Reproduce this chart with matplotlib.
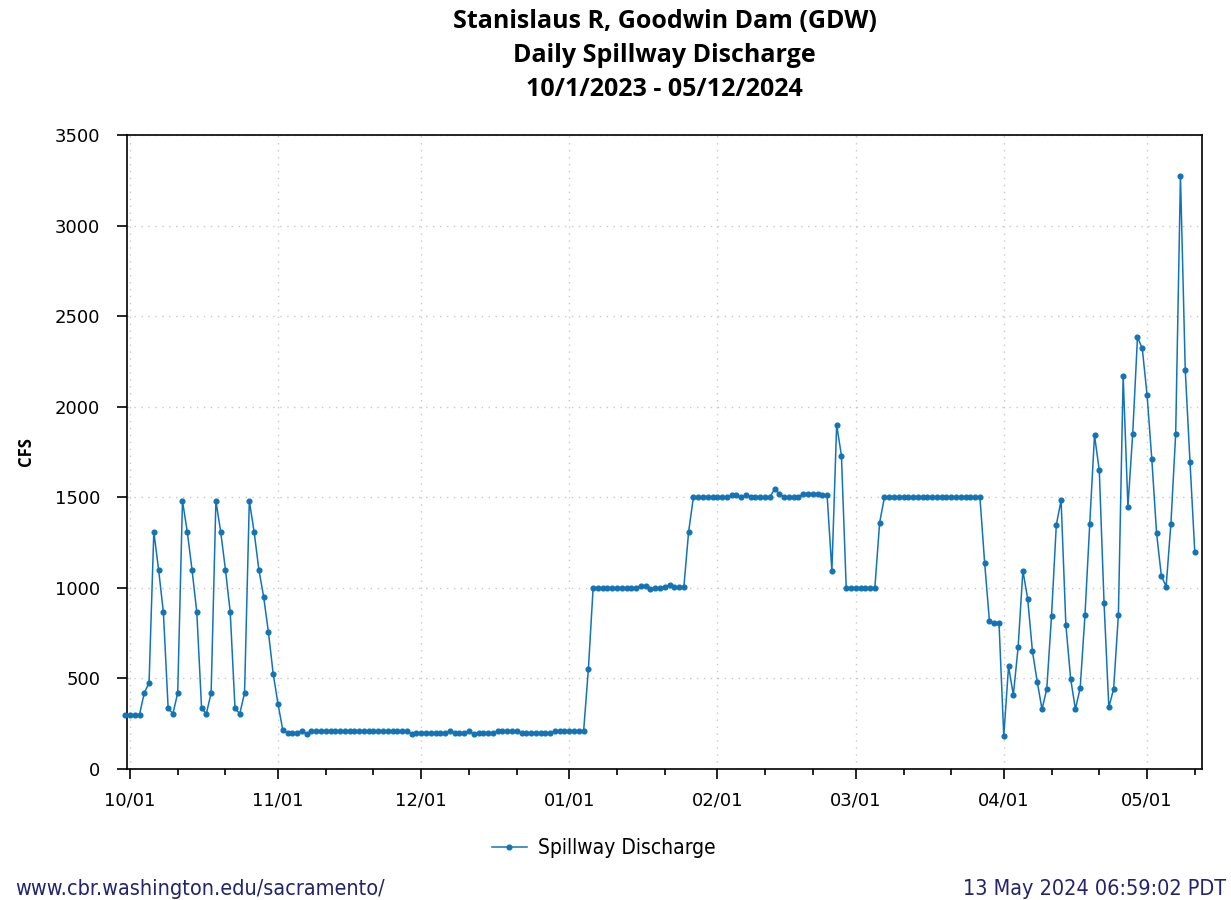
import matplotlib
matplotlib.use("Agg")
import matplotlib.pyplot as plt
import matplotlib.dates as mdates
import pandas as pd

plt.rcParams["font.family"] = ["DejaVu Sans"]

# Daily spillway discharge (cfs), one value per day
dates = pd.date_range("2023-09-30", periods=225, freq="D")

oct_nov_values = [
    300, 300, 300, 300, 420, 475, 1310, 1100, 865, 335,
    305, 420, 1480, 1310, 1100, 865, 335, 305, 420, 1480,
    1310, 1100, 865, 335, 305, 420, 1480, 1310, 1100, 950,
    755, 525, 360, 215,
]
nov_jan_values = [
    200, 200, 200, 210, 195, 207, 207, 207, 207, 207,
    207, 207, 207, 207, 207, 207, 207, 207, 207, 207,
    207, 207, 207, 207, 207, 207, 195, 198, 198, 198,
    198, 198, 198, 198, 210, 198, 198, 198, 210, 193,
    198, 198, 198, 198, 207, 207, 207, 207, 207, 197,
    197, 197, 197, 197, 197, 197, 207, 207, 207, 207,
    207, 207, 207,
]
jan_feb_values = [
    550, 1000, 1000, 1000, 1000, 1000, 1000, 1000, 1000, 1000,
    1000, 1010, 1010, 995, 1000, 1000, 1005, 1015, 1005, 1005,
    1005, 1310, 1500, 1500, 1500, 1500, 1500, 1500, 1500, 1500,
    1510, 1510, 1500, 1510, 1500, 1500, 1500, 1500, 1500, 1545,
    1520, 1500, 1500, 1500, 1500, 1520, 1520, 1520, 1520, 1510,
    1510,
]
feb_may_values = [
    1095, 1900, 1730, 1000, 1000, 1000, 1000, 1000, 1000, 1000,
    1360, 1500, 1500, 1500, 1500, 1500, 1500, 1500, 1500, 1500,
    1500, 1500, 1500, 1500, 1500, 1500, 1500, 1500, 1500, 1500,
    1500, 1500, 1135, 815, 805, 805, 182, 567, 408, 671,
    1095, 940, 650, 482, 330, 440, 847, 1347, 1484, 796,
    498, 330, 447, 848, 1352, 1843, 1648, 915, 340, 442,
    850, 2169, 1449, 1851, 2383, 2322, 2067, 1710, 1301, 1066,
    1007, 1354, 1851, 3275, 2205, 1694, 1199,
]
discharge = oct_nov_values + nov_jan_values + jan_feb_values + feb_may_values

y_ticks = [0, 500, 1000, 1500, 2000, 2500, 3000, 3500]

title_lines = ["Stanislaus R, Goodwin Dam (GDW)",
               "Daily Spillway Discharge",
               "10/1/2023 - 05/12/2024"]

line_color = "#1274b6"
footer_color = "#23236e"

fig = plt.figure(figsize=(12.31, 9.0), dpi=100)
ax = fig.add_axes([0.1029, 0.1456, 0.8735, 0.7044])

ax.plot(dates, discharge, "-o", color=line_color, lw=1.1, ms=3.4,
        mec=line_color, mfc=line_color, clip_on=False,
        label="Spillway Discharge", zorder=3)

ax.set_ylim(0, 3500)
ax.set_yticks(y_ticks)
ax.set_xlim(pd.Timestamp("2023-09-30 07:30"), pd.Timestamp("2024-05-12 12:00"))

ax.xaxis.set_major_locator(mdates.MonthLocator(bymonthday=1))
ax.xaxis.set_major_formatter(mdates.DateFormatter("%m/%d"))
ax.xaxis.set_minor_locator(mdates.DayLocator(bymonthday=[11, 21]))

ax.grid(True, which="major", color="#c8c8c8", linestyle=(0, (1, 4)), lw=1)
ax.set_axisbelow(True)

ax.tick_params(axis="both", which="major", direction="out", length=7,
               width=1.2, labelsize=13, color="black")
ax.tick_params(axis="x", which="major", pad=9)
ax.tick_params(axis="y", which="major", pad=12)
ax.tick_params(axis="x", which="minor", direction="out", length=4, width=1.2)
for lab in ax.get_xticklabels() + ax.get_yticklabels():
    lab.set_family("DejaVu Sans")
for s in ax.spines.values():
    s.set_linewidth(1.2)

ax.set_ylabel("CFS", fontsize=12, fontweight="bold", family="Open Sans")
ax.yaxis.set_label_coords(-0.085, 0.5)

for i, line in enumerate(title_lines):
    fig.text(0.540, 1 - (22 + 33.5 * i) / 900, line, ha="center", va="center",
             fontsize=18, fontweight="bold", family="Open Sans")

fig.legend(loc="center", bbox_to_anchor=(604 / 1231, 1 - 848 / 900),
           frameon=False, handlelength=1.65, handletextpad=0.55,
           prop={"family": "DejaVu Sans", "stretch": "condensed", "size": 15})

fig.text(15 / 1231, 1 - 889 / 900, "www.cbr.washington.edu/sacramento/",
         ha="left", va="center", color=footer_color, fontsize=15.5,
         family="DejaVu Sans", fontstretch="condensed")
fig.text(1226 / 1231, 1 - 889 / 900, "13 May 2024 06:59:02 PDT",
         ha="right", va="center", color=footer_color, fontsize=15.5,
         family="DejaVu Sans", fontstretch="condensed")

fig.savefig("out.png", dpi=100)
